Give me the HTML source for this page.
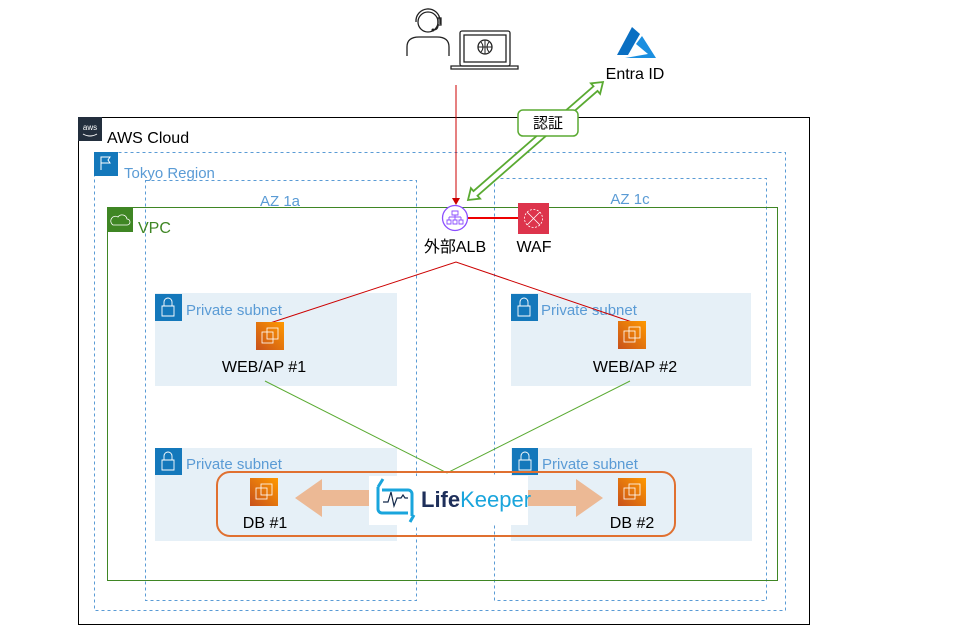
<!DOCTYPE html>
<html><head><meta charset="utf-8"><style>
body{margin:0;background:#fff;}
svg{display:block;font-family:"Liberation Sans","Noto Sans CJK JP",sans-serif;}
</style></head><body>
<svg width="960" height="632" viewBox="0 0 960 632" xmlns="http://www.w3.org/2000/svg">
<!-- AWS Cloud -->
<rect x="78.5" y="117.5" width="731" height="507" fill="none" stroke="#000" stroke-width="1"/>
<rect x="78" y="117" width="24" height="24" fill="#232f3e"/>
<text x="90" y="130" font-size="8" fill="#fff" text-anchor="middle">aws</text>
<path d="M83 134 q7 4 14 0" stroke="#fff" fill="none" stroke-width="1"/>
<text x="107" y="143" font-size="16" fill="#000">AWS Cloud</text>
<!-- Tokyo Region -->
<rect x="94.5" y="152.5" width="691" height="458" fill="none" stroke="#5a9bd5" stroke-dasharray="3,3"/>
<rect x="94" y="152" width="24" height="24" fill="#1478bb"/>
<path d="M101 170 V157 h9 l-2 3 l2 3 h-9" stroke="#fff" fill="none"/>
<text x="124" y="178" font-size="15" fill="#5a9bd5">Tokyo Region</text>
<!-- AZ -->
<rect x="145.5" y="180.5" width="271" height="420" fill="none" stroke="#5a9bd5" stroke-dasharray="3,3"/>
<text x="280" y="206" font-size="15" fill="#5a9bd5" text-anchor="middle">AZ 1a</text>
<rect x="494.5" y="178.5" width="272" height="422" fill="none" stroke="#5a9bd5" stroke-dasharray="3,3"/>
<text x="630" y="204" font-size="15" fill="#5a9bd5" text-anchor="middle">AZ 1c</text>
<!-- VPC -->
<rect x="107.5" y="207.5" width="670" height="373" fill="none" stroke="#3f8624"/>
<rect x="107" y="207" width="26" height="25" fill="#3f8624"/>
<path d="M113 225 h14 a3 3 0 0 0 0-6 a5 5 0 0 0-9-2 a4 4 0 0 0-5 8z" stroke="#fff" fill="none" stroke-width="0.8"/>
<text x="138" y="233" font-size="16" fill="#3f8624">VPC</text>
<!-- subnets -->
<g font-size="15" fill="#5a9bd5">
<rect x="155" y="293" width="242" height="93" fill="#e6f0f7"/>
<rect x="511" y="293" width="240" height="93" fill="#e6f0f7"/>
<rect x="155" y="448" width="242" height="93" fill="#e6f0f7"/>
<rect x="511" y="448" width="241" height="93" fill="#e6f0f7"/>
<text x="186" y="315">Private subnet</text>
<text x="541" y="315">Private subnet</text>
<text x="186" y="469">Private subnet</text>
<text x="542" y="469">Private subnet</text>
</g>
<g fill="#1478bb">
<rect x="155" y="294" width="27" height="27"/><rect x="511" y="294" width="27" height="27"/>
<rect x="155" y="448" width="27" height="27"/><rect x="512" y="448" width="26" height="27"/>
</g>
<g stroke="#fff" fill="none" stroke-width="0.9">
<path d="M164 306 v-4 a4 4 0 0 1 8 0 v4 M162 306 h12 v10 h-12z"/>
<path d="M520 306 v-4 a4 4 0 0 1 8 0 v4 M518 306 h12 v10 h-12z"/>
<path d="M164 460 v-4 a4 4 0 0 1 8 0 v4 M162 460 h12 v10 h-12z"/>
<path d="M521 460 v-4 a4 4 0 0 1 8 0 v4 M519 460 h12 v10 h-12z"/>
</g>
<!-- lines -->
<line x1="456" y1="85" x2="456" y2="200" stroke="#c00" stroke-width="1"/>
<path d="M452 198 L456 205 L460 198z" fill="#c00"/>
<line x1="468" y1="218" x2="518" y2="218" stroke="#e00" stroke-width="2"/>
<polyline points="270,323 456,262 632,322" fill="none" stroke="#c00" stroke-width="1"/>
<polyline points="265,381 447,473 630,381" fill="none" stroke="#5aaa32" stroke-width="1"/>
<!-- EC2 icons -->
<defs>
<linearGradient id="g" x1="0" y1="1" x2="1" y2="0"><stop offset="0" stop-color="#c8511b"/><stop offset="1" stop-color="#ff9900"/></linearGradient>
<g id="ec2"><rect width="28" height="28" fill="url(#g)"/><rect x="6" y="10" width="11" height="11" fill="none" stroke="#fff" stroke-width="0.8"/><rect x="11" y="6" width="11" height="11" fill="none" stroke="#fff" stroke-width="0.8"/></g>
</defs>
<use href="#ec2" x="256" y="322"/>
<use href="#ec2" x="618" y="321"/>
<use href="#ec2" x="250" y="478"/>
<use href="#ec2" x="618" y="478"/>
<g font-size="16" fill="#000" text-anchor="middle">
<text x="264" y="372">WEB/AP #1</text>
<text x="635" y="372">WEB/AP #2</text>
<text x="265" y="528">DB #1</text>
<text x="632" y="528">DB #2</text>
<text x="455" y="252">外部ALB</text>
<text x="534" y="252">WAF</text>
<text x="635" y="79">Entra ID</text>
</g>
<!-- ALB -->
<circle cx="455" cy="218" r="12.5" fill="#fff" stroke="#8c4fff" stroke-width="1.3"/>
<path d="M452 211 h6 v4 h-6z M455 215 v2 M449 217 h12 M449 217 v3 M455 217 v3 M461 217 v3 M447 220 h4 v4 h-4z M453 220 h4 v4 h-4z M459 220 h4 v4 h-4z" fill="none" stroke="#8c4fff" stroke-width="0.9"/>
<!-- WAF -->
<rect x="518" y="203" width="31" height="31" fill="#dd344c"/>
<circle cx="533.5" cy="218.5" r="9" fill="none" stroke="#fff" stroke-width="0.8" stroke-dasharray="2,1.5"/>
<path d="M527 212 L540 225 M540 212 L527 225" stroke="#fff" stroke-width="0.8"/>
<!-- Entra double arrow -->
<polygon points="468,200 480.1,198.7 477.5,195.7 597.5,90.9 600.1,93.9 603,82 590.9,83.3 593.5,86.3 473.5,191.1 470.9,188.1" fill="#fff" stroke="#5aaa32" stroke-width="1.8" stroke-linejoin="miter"/>
<rect x="518" y="110" width="60" height="26" rx="5" fill="#fff" stroke="#5aaa32" stroke-width="1.5"/>
<text x="548" y="128" font-size="15" text-anchor="middle">認証</text>
<!-- Azure logo -->
<path d="M632 27 L617 55 L628 55 L640 34z" fill="#0a6fc2"/>
<path d="M642 36 L656 58 L625 58 L648 54 L636 44z" fill="#1b8fe0"/>
<!-- person -->
<g fill="none" stroke="#222" stroke-width="1.3">
<circle cx="428" cy="22" r="10"/>
<path d="M416 22 a12 12 0 0 1 24 -2 v4" />
<rect x="438" y="18" width="3" height="7"/>
<path d="M438 25 q0 5 -5 5"/>
<path d="M407 56 v-9 q0-10 12-10 h18 q12 0 12 10 v9"/>
<rect x="460" y="31" width="50" height="35" rx="2"/>
<rect x="464" y="35" width="42" height="27"/>
<path d="M451 66 h67 v3 h-67z"/>
<circle cx="485" cy="47" r="7"/>
<path d="M478 47 h14 M485 40 v14 M481 42 q4 5 0 10 M489 42 q-4 5 0 10" stroke-width="1"/>
</g>
<circle cx="433" cy="30" r="1.5" fill="#222"/>
<!-- LifeKeeper group -->
<rect x="217" y="472" width="458" height="64" rx="13" fill="none" stroke="#e07030" stroke-width="2"/>
<path d="M370 490 H322 V479 L295 498 L322 517 V506 H370z" fill="#ecb995"/>
<path d="M527 490 H576 V479 L603 498 L576 517 V506 H527z" fill="#ecb995"/>
<rect x="369" y="476" width="159" height="49" fill="#fff"/>
<g fill="none" stroke="#1aa5dc" stroke-width="3">
<path d="M378 487 v22 a4 4 0 0 0 4 4 h26"/>
<path d="M412 516 v-22 a4 4 0 0 0 -4-4 h-26"/>
</g>
<path d="M383 479 l-5 8 M410 522 l4-7" stroke="#1aa5dc" stroke-width="3"/>
<path d="M383 502 h5 l3-10 l3 14 l3-8 h4 l2 -3 l2 3 h3" fill="none" stroke="#13294b" stroke-width="1.2"/>
<text x="421" y="507" font-size="22" font-weight="bold" fill="#1e2f5a">Life<tspan fill="#1aa5dc" font-weight="normal">Keeper</tspan></text>
</svg>
</body></html>
